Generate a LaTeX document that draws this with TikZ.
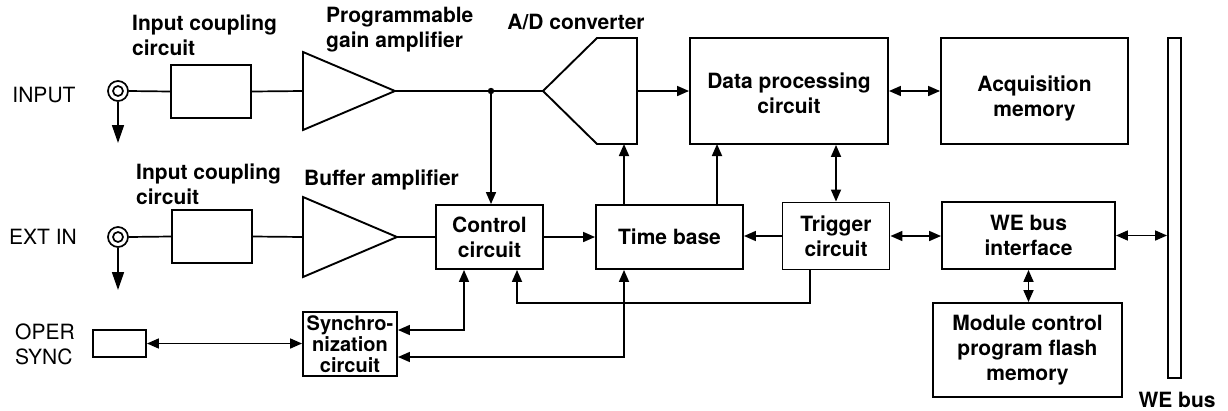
\documentclass[tikz,border=0pt]{standalone}
\usepackage{fontspec}
\setmainfont{TeX Gyre Heros}
\usetikzlibrary{arrows.meta,calc}
\begin{document}
\begin{tikzpicture}[x=1pt,y=-1pt,
  box/.style={draw,line width=1.9pt,inner sep=0pt,align=center,font=\fontsize{21}{25}\selectfont\bfseries},
  lbl/.style={inner sep=0pt,align=left,font=\fontsize{21}{25}\selectfont\bfseries},
  plain/.style={inner sep=0pt,align=left,font=\fontsize{21}{25}\selectfont},
  conn/.style={line width=1.7pt},
  arr/.style={conn,-{Triangle[length=12pt,width=10pt]}},
  darr/.style={conn,{Triangle[length=12pt,width=10pt]}-{Triangle[length=12pt,width=10pt]}},
  gnd/.style={conn,-{Triangle[length=18pt,width=12pt]}},
  bnc/.style={circle,draw,line width=1.7pt,inner sep=0pt,minimum size=20pt},
  bnci/.style={circle,draw,line width=1.7pt,inner sep=0pt,minimum size=10pt}
]
\useasboundingbox (0,0) rectangle (1228,410);

% ---- labels
\node[plain,anchor=center] (tin) at (44,95) {INPUT};
\node[plain,anchor=center] (text) at (43,237) {EXT IN};
\node[plain,anchor=center,align=left] (toper) at (45,344) {OPER\\SYNC};
\node[lbl,anchor=west] (lab1) at (132,35) {Input coupling\\circuit};
\node[lbl,anchor=west] (lab2) at (136,184) {Input coupling\\circuit};
\node[lbl,anchor=west] (lab3) at (326,30) {Programmable\\gain amplifier};
\node[lbl,anchor=west] (lab4) at (304,180) {Buffer amplifier};
\node[lbl,anchor=center] (lab5) at (576,22) {A/D converter};
\node[lbl,anchor=center] (lab6) at (1177,400) {WE bus};

% ---- connectors (BNC)
\node[bnc] (bnc1) at (118,91) {};
\node[bnci] (bnc1i) at (118,91) {};
\node[bnc] (bnc2) at (118,237) {};
\node[bnci] (bnc2i) at (118,237) {};
\coordinate (g1) at (118,143);
\coordinate (g2) at (118,290);
\draw[gnd] (bnc1.south) -- (g1);
\draw[gnd] (bnc2.south) -- (g2);

% ---- boxes
\node[box,minimum width=80pt,minimum height=53pt] (icc1) at (211,91.5) {};
\node[box,minimum width=80pt,minimum height=53pt] (icc2) at (212,236.5) {};
\node[box,minimum width=198pt,minimum height=106pt] (dp) at (789,91) {\\[-4pt]Data processing\\circuit};
\node[box,minimum width=187pt,minimum height=106pt] (acq) at (1034.5,91) {};
\node[lbl,align=center] (acqt) at (1034.5,98) {Acquisition\\memory};
\node[box,minimum width=13pt,minimum height=340pt] (webar) at (1174.5,208) {};
\node[box,minimum width=107pt,minimum height=67pt] (trig) at (836,236) {Trigger\\circuit};
\node[box,minimum width=173pt,minimum height=67pt] (wei) at (1028.5,235.5) {WE bus\\interface};
\node[box,minimum width=189pt,minimum height=94pt] (mod) at (1027.5,350) {Module control\\program flash\\memory};
\node[box,minimum width=107pt,minimum height=64pt] (ctrl) at (489.5,237) {Control\\circuit};
\node[box,minimum width=147pt,minimum height=64pt] (tb) at (669.5,237) {Time base};
\node[box,minimum width=94pt,minimum height=64pt,font=\fontsize{20}{21}\selectfont\bfseries] (sync) at (350,344) {Synchro-\\nization\\circuit};
\node[box,minimum width=53pt,minimum height=27pt] (oper) at (119.5,343.5) {};

% ---- amplifiers and A/D converter
\coordinate (pgain) at (303,91);
\coordinate (pgaout) at (395,91);
\draw[line width=1.9pt] (303,52) -- (pgaout) -- (303,130) -- cycle;
\coordinate (bufin) at (303,237);
\coordinate (bufout) at (397,237);
\draw[line width=1.9pt] (303,197) -- (bufout) -- (303,277) -- cycle;
\coordinate (adin) at (543,91);
\coordinate (adout) at (637,91);
\coordinate (adb1) at (624,144);
\draw[line width=1.9pt] (adin) -- (597,38) -- (637,38) -- (637,144) -- (597,144) -- cycle;

% ---- signal lines
\draw[conn] (bnc1.east) -- (icc1.west);
\draw[conn] (icc1.east) -- (pgain);
\draw[conn] (pgaout) -- (adin);
\coordinate (jn) at (491,91);
\fill (jn) circle (3.2);
\draw[arr] (jn) -- (jn |- ctrl.north);
\draw[arr] (adout) -- (adout -| dp.west);
\draw[darr] (dp.east) -- (acq.west);
\draw[darr] (trig.north) -- (trig.north |- dp.south);

\draw[conn] (bnc2.east) -- (icc2.west);
\draw[conn] (icc2.east) -- (bufin);
\draw[conn] (bufout) -- (bufout -| ctrl.west);
\draw[arr] (ctrl.east) -- (ctrl.east -| tb.west);
\draw[arr] (trig.west) -- (trig.west -| tb.east);
\draw[darr] (trig.east) -- (trig.east -| wei.west);
\draw[darr] (wei.east) -- (wei.east -| webar.west);
\draw[darr] (wei.south) -- (wei.south |- mod.north);

\draw[arr] (adb1 |- tb.north) -- (adb1);
\coordinate (tbx) at (717,144);
\draw[arr] (tbx |- tb.north) -- (tbx);

% ---- lower loops
\coordinate (c4) at (810,303);
\coordinate (c3) at (517,303);
\draw[arr] (c4 |- trig.south) -- (c4) -- (c3) -- (c3 |- ctrl.south);
\coordinate (c1) at (464,330);
\draw[darr] (c1 -| sync.east) -- (c1) -- (c1 |- ctrl.south);
\coordinate (c2) at (624,357);
\draw[darr] (c2 -| sync.east) -- (c2) -- (c2 |- tb.south);
\draw[darr] (oper.east) -- (oper.east -| sync.west);
\end{tikzpicture}
\end{document}
